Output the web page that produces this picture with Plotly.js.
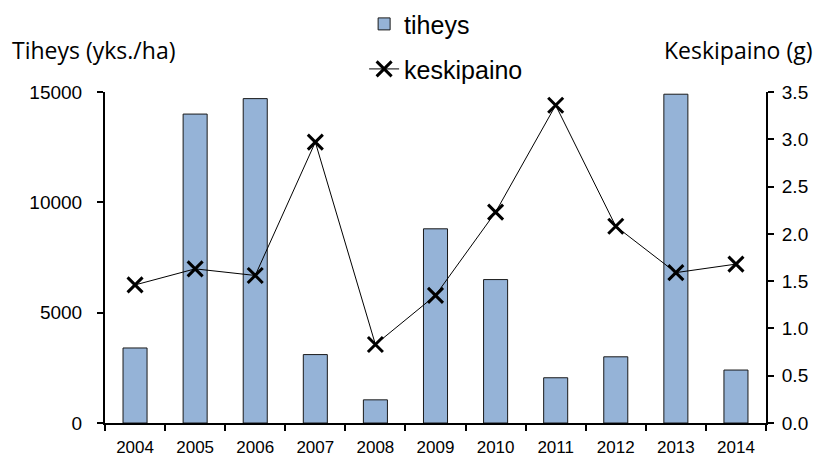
<!DOCTYPE html>
<html>
<head>
<meta charset="utf-8">
<script src="https://cdn.plot.ly/plotly-3.0.1.min.js"></script>
<style>html,body{margin:0;padding:0;background:#fff;}#chart{width:818px;height:462px;}</style>
</head>
<body>
<div id="chart"></div>
<script>
const years = ['2004','2005','2006','2007','2008','2009','2010','2011','2012','2013','2014'];
const tiheys = [3400, 14000, 14700, 3100, 1050, 8800, 6500, 2050, 3000, 14900, 2400];
const keskipaino = [1.46, 1.63, 1.56, 2.97, 0.83, 1.35, 2.23, 3.36, 2.08, 1.59, 1.68];
const leftTicks = [0, 5000, 10000, 15000];
const rightTicks = [0, 0.5, 1.0, 1.5, 2.0, 2.5, 3.0, 3.5];
const seriesNames = ['tiheys', 'keskipaino'];
const axisTitles = ['Tiheys (yks./ha)', 'Keskipaino (g)'];

const xRange = [-0.5, years.length - 0.5];
const boundaries = years.map((_, i) => i - 0.5).concat([years.length - 0.5]);

const traces = [
  {
    type: 'bar', x: years, y: tiheys, name: seriesNames[0],
    marker: {color: '#95B3D7', line: {color: '#1a1a1a', width: 1}},
    xaxis: 'x', yaxis: 'y', legend: 'legend'
  },
  {
    type: 'scatter', mode: 'lines+markers', x: years, y: keskipaino, name: seriesNames[1],
    line: {color: '#000', width: 1},
    marker: {symbol: 'x-thin', size: 15, line: {color: '#000', width: 3}, color: '#000'},
    xaxis: 'x', yaxis: 'y2', legend: 'legend2'
  }
];

const tickFont = {family: 'Liberation Sans, Arial, sans-serif', size: 19, color: '#000'};
const legendFont = {family: 'Liberation Sans, Arial, sans-serif', size: 25, color: '#000'};
const titleFont = {family: 'Open Sans, sans-serif', size: 23, color: '#000'};
const layout = {
  width: 818, height: 462,
  margin: {l: 105, r: 52, t: 92, b: 39, autoexpand: false},
  paper_bgcolor: '#fff', plot_bgcolor: '#fff',
  bargap: 0.6,
  showlegend: true,
  xaxis: {
    type: 'category', range: xRange, autorange: false, tickson: 'boundaries', ticks: 'outside', ticklen: 6, tickwidth: 2, tickcolor: '#000',
    showline: true, linecolor: '#000', linewidth: 2, showgrid: false, zeroline: false,
    tickfont: {family: 'Liberation Sans Narrow, Arial Narrow, Liberation Sans, sans-serif', size: 17, color: '#000'},
    ticklabelstandoff: 8
  },
  xaxis2: {
    overlaying: 'x', anchor: 'y', range: xRange, autorange: false, tickvals: boundaries,
    ticks: 'inside', ticklen: 4, tickwidth: 2, tickcolor: '#000', showticklabels: false,
    showgrid: false, zeroline: false, showline: false
  },
  yaxis: {
    range: [0, 15000], tickvals: leftTicks, tickformat: 'd', ticks: 'outside', ticklen: 6, tickwidth: 2, tickcolor: '#000',
    showline: true, linecolor: '#000', linewidth: 2, showgrid: false, zeroline: false,
    tickfont: tickFont, ticklabelstandoff: 11
  },
  yaxis3: {
    overlaying: 'y', side: 'left', anchor: 'x', range: [0, 15000], tickvals: leftTicks,
    ticks: 'inside', ticklen: 5, tickwidth: 2, tickcolor: '#000', showticklabels: false,
    showgrid: false, zeroline: false, showline: false
  },
  yaxis2: {
    overlaying: 'y', side: 'right', anchor: 'x', range: [0, 3.5], tickvals: rightTicks, tickformat: '.1f',
    ticks: 'outside', ticklen: 6, tickwidth: 2, tickcolor: '#000',
    showline: true, linecolor: '#000', linewidth: 2, showgrid: false, zeroline: false,
    tickfont: tickFont, ticklabelstandoff: 4
  },
  yaxis4: {
    overlaying: 'y', side: 'right', anchor: 'x', range: [0, 3.5], tickvals: rightTicks,
    ticks: 'inside', ticklen: 5, tickwidth: 2, tickcolor: '#000', showticklabels: false,
    showgrid: false, zeroline: false, showline: false
  },
  legend: {
    x: 0.392, y: 1.205, xanchor: 'left', yanchor: 'middle', bgcolor: 'rgba(0,0,0,0)',
    font: legendFont
  },
  legend2: {
    x: 0.392, y: 1.069, xanchor: 'left', yanchor: 'middle', bgcolor: 'rgba(0,0,0,0)',
    font: legendFont
  },
  annotations: [
    {text: axisTitles[0], xref: 'paper', yref: 'paper', x: -0.1437, y: 1.127, xanchor: 'left', yanchor: 'middle',
     showarrow: false, font: titleFont},
    {text: axisTitles[1], xref: 'paper', yref: 'paper', x: 1.0726, y: 1.127, xanchor: 'right', yanchor: 'middle',
     showarrow: false, font: titleFont}
  ]
};

Plotly.newPlot('chart', traces, layout, {displayModeBar: false, staticPlot: true});
</script>
</body>
</html>
